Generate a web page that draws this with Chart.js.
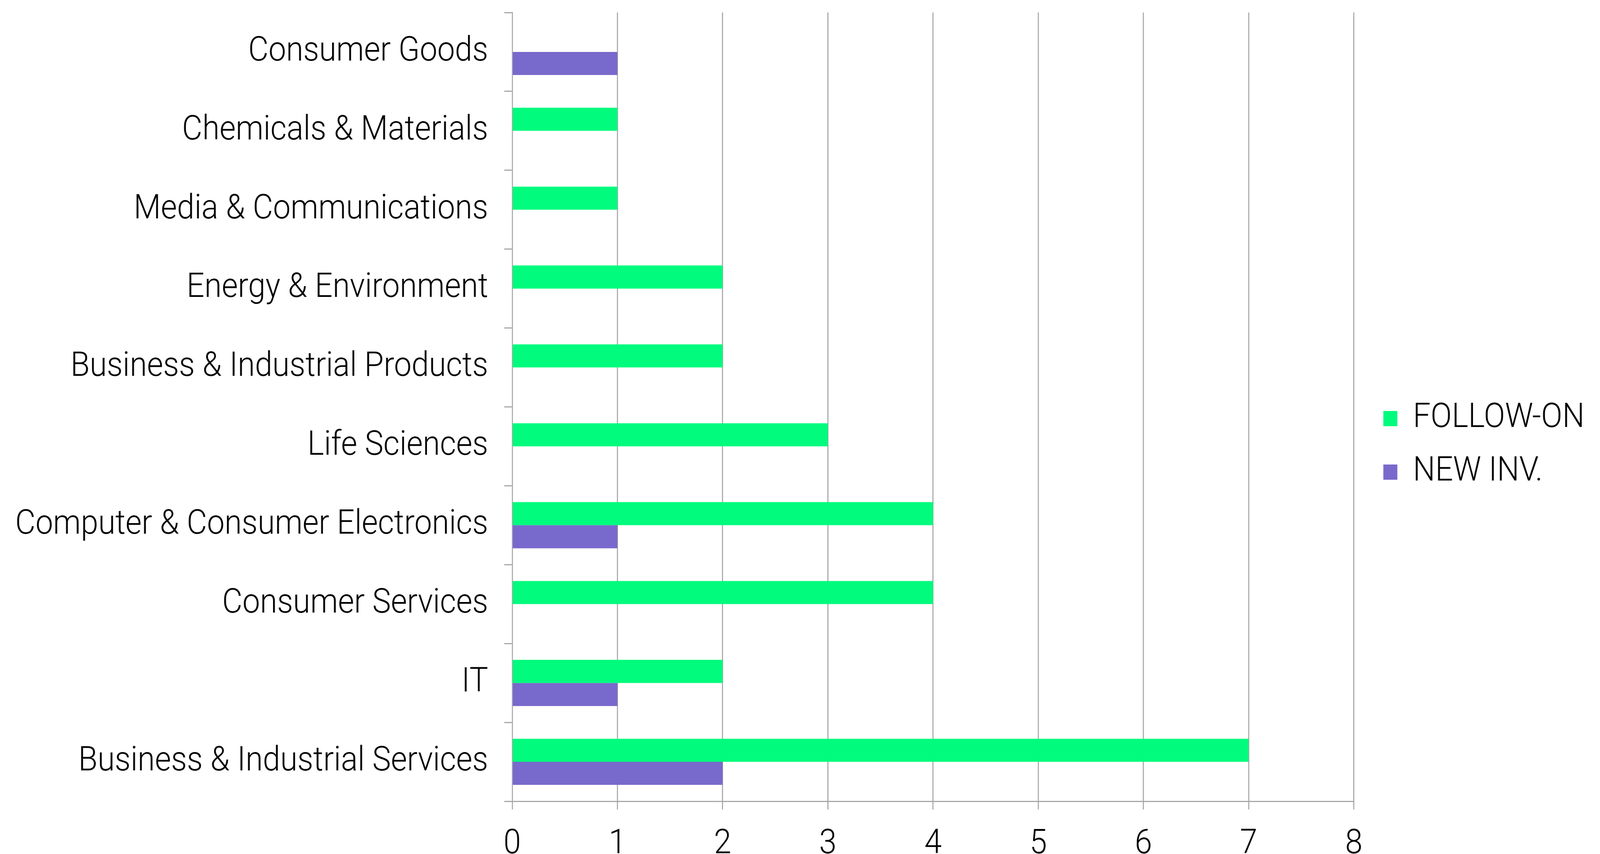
<!DOCTYPE html>
<html lang="en">
  <head>
    <meta charset="UTF-8" />
    <title>Investments by Sector</title>
    <script src="https://cdn.jsdelivr.net/npm/chart.js"></script>
    <style>
      html,
      body {
        margin: 0;
        padding: 0;
        overflow: hidden;
        background: #ffffff;
      }
      #wrap {
        width: 4448px;
        height: 2186px;
        transform-origin: 0 0;
      }
    </style>
  </head>
  <body>
    <div id="wrap">
      <canvas id="sectorChart"></canvas>
    </div>

    <script>
      // categories, top to bottom
      const sectors = [
        "Consumer Goods",
        "Chemicals & Materials",
        "Media & Communications",
        "Energy & Environment",
        "Business & Industrial Products",
        "Life Sciences",
        "Computer & Consumer Electronics",
        "Consumer Services",
        "IT",
        "Business & Industrial Services",
      ];
      const followOn = [0, 1, 1, 2, 2, 3, 4, 4, 2, 7];
      const newInv = [1, 0, 0, 0, 0, 0, 1, 0, 1, 2];
      const xTicks = [0, 1, 2, 3, 4, 5, 6, 7, 8];

      // the chart is laid out on a 4448x2186 board, then fitted to the window
      const wrap = document.getElementById("wrap");
      wrap.style.transform =
        "scale(" + window.innerWidth / 4448 + "," + window.innerHeight / 2186 + ")";

      const GRID = "#a8a8a8";
      const FONT = { family: "Roboto", size: 87, weight: 300 };

      // nudges the right-hand legend into place
      const legendShift = {
        id: "legendShift",
        afterLayout(chart) {
          const l = chart.legend;
          if (!l) return;
          l.left += 32;
          l.right += 32;
          l.top += 31;
          l.bottom += 31;
        },
      };

      Chart.defaults.font.family = FONT.family;
      Chart.defaults.color = "#000000";

      new Chart(document.getElementById("sectorChart"), {
        type: "bar",
        data: {
          labels: sectors,
          datasets: [
            {
              label: "FOLLOW-ON",
              data: followOn,
              backgroundColor: "#00fb7d",
              barPercentage: 1,
              categoryPercentage: 0.585,
            },
            {
              label: "NEW INV.",
              data: newInv,
              backgroundColor: "#7869cc",
              barPercentage: 1,
              categoryPercentage: 0.585,
            },
          ],
        },
        options: {
          indexAxis: "y",
          responsive: true,
          maintainAspectRatio: false,
          animation: false,
          layout: {
            padding: { top: 32, right: 65, bottom: 0, left: 0 },
          },
          plugins: {
            legend: {
              position: "right",
              labels: {
                boxWidth: 39,
                boxHeight: 39,
                padding: 50,
                color: "#000000",
                font: FONT,
              },
            },
            tooltip: { enabled: false },
          },
          scales: {
            x: {
              min: 0,
              max: 8,
              afterBuildTicks: (scale) => {
                scale.ticks = xTicks.map((v) => ({ value: v }));
              },
              afterFit: (scale) => {
                scale.height = 135;
              },
              grid: {
                color: GRID,
                lineWidth: 3,
                tickLength: 21,
              },
              border: { color: GRID, width: 3 },
              ticks: {
                color: "#000000",
                font: FONT,
                padding: 38,
              },
            },
            y: {
              afterFit: (scale) => {
                scale.width = 1424;
                scale.paddingTop = 0;
                scale.paddingBottom = 0;
              },
              grid: {
                drawOnChartArea: false,
                color: GRID,
                lineWidth: 3,
                tickLength: 22,
              },
              border: { color: GRID, width: 3 },
              ticks: {
                color: "#000000",
                font: FONT,
                padding: 45,
              },
            },
          },
        },
        plugins: [legendShift],
      });
    </script>
  </body>
</html>
